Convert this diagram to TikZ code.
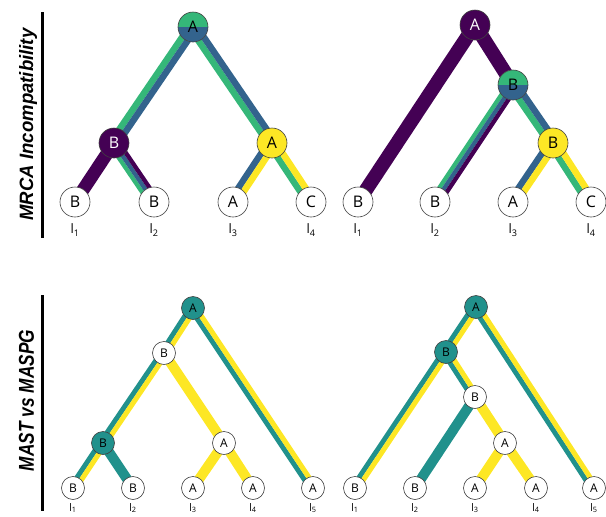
\documentclass[tikz,border=0pt]{standalone}
\usepackage{fontspec}
\usepackage{graphicx}
\setmainfont{Open Sans}
\newfontfamily\titlefont{Liberation Sans}
\usetikzlibrary{calc}
\definecolor{vpurple}{HTML}{440154}
\definecolor{vblue}{HTML}{33638D}
\definecolor{vgreen}{HTML}{35B779}
\definecolor{vyellow}{HTML}{FDE725}
\definecolor{vteal}{HTML}{21918C}
\pgfdeclarelayer{bg}
\pgfsetlayers{bg,main}
\newcommand\stripe[5]{\draw[line width=#4, #5] ($(#1)!#3!90:(#2)$) -- ($(#2)!#3!-90:(#1)$);}
\newcommand\bone[4]{\stripe{#1}{#2}{0pt}{#4pt}{#3}}
\newcommand\btwo[5]{\pgfmathsetmacro\myoff{#5/2}\stripe{#1}{#2}{-\myoff pt}{#5pt}{#3}\stripe{#1}{#2}{\myoff pt}{#5pt}{#4}}
\newcommand\bthree[6]{\stripe{#1}{#2}{-#6pt}{#6pt}{#3}\stripe{#1}{#2}{0pt}{#6pt}{#4}\stripe{#1}{#2}{#6pt}{#6pt}{#5}}
\tikzset{
  tn/.style={circle, draw=black!75, line width=0.6pt, minimum size=30pt, inner sep=0pt, fill=white, font=\fontsize{16}{16}\selectfont},
  bn/.style={circle, draw=black!75, line width=0.6pt, minimum size=23pt, inner sep=0pt, fill=white, font=\fontsize{12}{12}\selectfont},
  splitgb/.style={path picture={\fill[vgreen] (path picture bounding box.north west) rectangle (path picture bounding box.east);
                                 \fill[vblue] (path picture bounding box.west) rectangle (path picture bounding box.south east);}},
  tlab/.style={inner sep=0pt, font=\fontsize{13}{13}\selectfont},
  blab/.style={inner sep=0pt, font=\fontsize{10.5}{10.5}\selectfont},
  title/.style={rotate=90, anchor=base, inner sep=0pt},
  bar/.style={line width=3pt, black}
}
\begin{document}
\begin{tikzpicture}[x=1pt, y=-1pt]
\useasboundingbox (0,0) rectangle (606,517);
% titles and bars
\node[title] (t1) at (33,124.5) {\resizebox{192pt}{14pt}{\titlefont\bfseries\itshape MRCA Incompatibility}};
\node[title] (t2) at (34,400.5) {\resizebox{141pt}{15pt}{\titlefont\bfseries\itshape MAST vs MASPG}};
\coordinate (bar1a) at (42,12); \coordinate (bar1b) at (42,238);
\coordinate (bar2a) at (42,295); \coordinate (bar2b) at (42,511);
\draw[bar] (bar1a) -- (bar1b);
\draw[bar] (bar2a) -- (bar2b);

% ---------- top-left tree ----------
\node[tn, splitgb] (a1) at (193,27) {A};
\node[tn, fill=vpurple, text=white] (a2) at (114,143) {B};
\node[tn, fill=vyellow] (a3) at (272,143) {A};
\node[tn] (a4) at (75,202) {B};
\node[tn] (a5) at (154,202) {B};
\node[tn] (a6) at (233,202) {A};
\node[tn] (a7) at (311,202) {C};
\node[tlab] (al1) at (75,230) {l\textsubscript{1}};
\node[tlab] (al2) at (154,230) {l\textsubscript{2}};
\node[tlab] (al3) at (233,230) {l\textsubscript{3}};
\node[tlab] (al4) at (311,230) {l\textsubscript{4}};
\begin{pgfonlayer}{bg}
\btwo{a1}{a2}{vgreen}{vblue}{6.5}
\btwo{a1}{a3}{vgreen}{vblue}{6.5}
\bone{a2}{a4}{vpurple}{13}
\bthree{a2}{a5}{vgreen}{vblue}{vpurple}{4.3}
\btwo{a3}{a6}{vblue}{vyellow}{6.5}
\btwo{a3}{a7}{vgreen}{vyellow}{6.5}
\end{pgfonlayer}

% ---------- top-right tree ----------
\node[tn, fill=vpurple, text=white] (b1) at (475,25) {A};
\node[tn, splitgb] (b2) at (513,85) {B};
\node[tn, fill=vyellow] (b3) at (553,143) {B};
\node[tn] (b4) at (358,202) {B};
\node[tn] (b5) at (435,202) {B};
\node[tn] (b6) at (513,202) {A};
\node[tn] (b7) at (591,202) {C};
\node[tlab] (bl1) at (358,230) {l\textsubscript{1}};
\node[tlab] (bl2) at (435,230) {l\textsubscript{2}};
\node[tlab] (bl3) at (513,230) {l\textsubscript{3}};
\node[tlab] (bl4) at (591,230) {l\textsubscript{4}};
\begin{pgfonlayer}{bg}
\bone{b1}{b4}{vpurple}{14}
\bone{b1}{b2}{vpurple}{14}
\bthree{b2}{b5}{vgreen}{vblue}{vpurple}{4.3}
\btwo{b2}{b3}{vgreen}{vblue}{6.5}
\btwo{b3}{b6}{vblue}{vyellow}{6.5}
\btwo{b3}{b7}{vgreen}{vyellow}{6.5}
\end{pgfonlayer}

% ---------- bottom-left tree ----------
\node[bn, fill=vteal] (c1) at (193,308) {A};
\node[bn] (c2) at (164,353) {B};
\node[bn, fill=vteal] (c3) at (103,443) {B};
\node[bn] (c4) at (224,443) {A};
\node[bn] (c5) at (73,488) {B};
\node[bn] (c6) at (133,488) {B};
\node[bn] (c7) at (193,488) {A};
\node[bn] (c8) at (253,488) {A};
\node[bn] (c9) at (313,488) {A};
\node[blab] (cl1) at (73,508) {l\textsubscript{1}};
\node[blab] (cl2) at (133,508) {l\textsubscript{2}};
\node[blab] (cl3) at (193,508) {l\textsubscript{3}};
\node[blab] (cl4) at (253,508) {l\textsubscript{4}};
\node[blab] (cl5) at (313,508) {l\textsubscript{5}};
\begin{pgfonlayer}{bg}
\btwo{c1}{c2}{vteal}{vyellow}{5}
\btwo{c1}{c9}{vteal}{vyellow}{5}
\btwo{c2}{c3}{vteal}{vyellow}{5}
\bone{c2}{c4}{vyellow}{10}
\btwo{c3}{c5}{vteal}{vyellow}{5}
\bone{c3}{c6}{vteal}{10}
\bone{c4}{c7}{vyellow}{10}
\bone{c4}{c8}{vyellow}{10}
\end{pgfonlayer}

% ---------- bottom-right tree ----------
\node[bn, fill=vteal] (d1) at (476,307) {A};
\node[bn, fill=vteal] (d2) at (446,352) {B};
\node[bn] (d3) at (475,397) {B};
\node[bn] (d4) at (505,443) {A};
\node[bn] (d5) at (355,488) {B};
\node[bn] (d6) at (415,488) {B};
\node[bn] (d7) at (475,488) {A};
\node[bn] (d8) at (536,488) {A};
\node[bn] (d9) at (594,488) {A};
\node[blab] (dl1) at (355,508) {l\textsubscript{1}};
\node[blab] (dl2) at (415,508) {l\textsubscript{2}};
\node[blab] (dl3) at (475,508) {l\textsubscript{3}};
\node[blab] (dl4) at (536,508) {l\textsubscript{4}};
\node[blab] (dl5) at (594,508) {l\textsubscript{5}};
\begin{pgfonlayer}{bg}
\btwo{d1}{d2}{vteal}{vyellow}{5}
\btwo{d1}{d9}{vteal}{vyellow}{5}
\btwo{d2}{d5}{vteal}{vyellow}{5}
\btwo{d2}{d3}{vteal}{vyellow}{5}
\bone{d3}{d6}{vteal}{10}
\bone{d3}{d4}{vyellow}{10}
\bone{d4}{d7}{vyellow}{10}
\bone{d4}{d8}{vyellow}{10}
\end{pgfonlayer}
\end{tikzpicture}
\end{document}
